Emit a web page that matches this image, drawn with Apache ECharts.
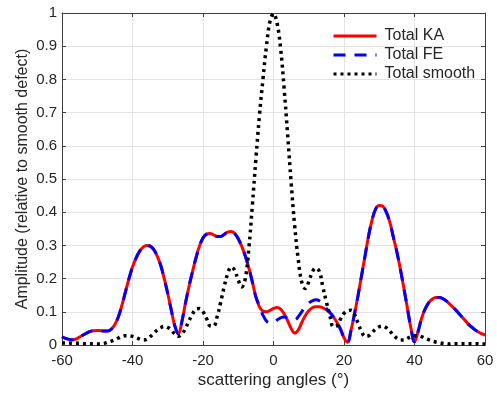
<!DOCTYPE html>
<html>
<head>
<meta charset="utf-8">
<script src="https://cdn.jsdelivr.net/npm/echarts@6/dist/echarts.min.js"></script>
<style>
  html, body { margin: 0; padding: 0; background: #fff; }
  #chart { width: 497px; height: 394px; }
</style>
</head>
<body>
<div id="chart"></div>
<script>
// scattering angle, one sample per degree from -60 to 60
const angles = [
  -60, -59, -58, -57, -56, -55, -54, -53, -52, -51, -50, -49, -48, -47, -46, -45, -44, -43, -42, -41,
  -40, -39, -38, -37, -36, -35, -34, -33, -32, -31, -30, -29, -28, -27, -26, -25, -24, -23, -22, -21,
  -20, -19, -18, -17, -16, -15, -14, -13, -12, -11, -10, -9, -8, -7, -6, -5, -4, -3, -2, -1,
  0, 1, 2, 3, 4, 5, 6, 7, 8, 9, 10, 11, 12, 13, 14, 15, 16, 17, 18, 19,
  20, 21, 22, 23, 24, 25, 26, 27, 28, 29, 30, 31, 32, 33, 34, 35, 36, 37, 38, 39,
  40, 41, 42, 43, 44, 45, 46, 47, 48, 49, 50, 51, 52, 53, 54, 55, 56, 57, 58, 59, 60
];

// Total KA (red, solid)
const totalKA = [
  0.025, 0.020, 0.017, 0.016, 0.018, 0.024, 0.030, 0.036, 0.041, 0.043, 0.044, 0.043, 0.042, 0.042, 0.048, 0.062, 0.085, 0.120, 0.160, 0.200,
  0.235, 0.262, 0.282, 0.295, 0.300, 0.298, 0.288, 0.268, 0.240, 0.200, 0.155, 0.105, 0.058, 0.033, 0.070, 0.125, 0.175, 0.220, 0.262, 0.298,
  0.322, 0.334, 0.336, 0.332, 0.327, 0.327, 0.333, 0.340, 0.342, 0.336, 0.320, 0.297, 0.268, 0.232, 0.190, 0.145, 0.115, 0.102, 0.100, 0.104,
  0.110, 0.113, 0.108, 0.094, 0.073, 0.050, 0.036, 0.045, 0.067, 0.088, 0.103, 0.112, 0.115, 0.115, 0.112, 0.106, 0.097, 0.085, 0.068, 0.048,
  0.022, 0.008, 0.045, 0.095, 0.150, 0.210, 0.270, 0.330, 0.378, 0.410, 0.420, 0.418, 0.400, 0.370, 0.325, 0.280, 0.228, 0.170, 0.110, 0.050,
  0.010, 0.040, 0.080, 0.108, 0.127, 0.138, 0.143, 0.143, 0.140, 0.133, 0.123, 0.113, 0.102, 0.090, 0.078, 0.066, 0.056, 0.047, 0.040, 0.034, 0.030
];

// Total FE (blue, dashed) - differs from KA only near the centre
const totalFE = [
  0.025, 0.020, 0.017, 0.016, 0.018, 0.024, 0.030, 0.036, 0.041, 0.043, 0.044, 0.043, 0.042, 0.042, 0.048, 0.062, 0.085, 0.120, 0.160, 0.200,
  0.235, 0.262, 0.282, 0.295, 0.300, 0.298, 0.288, 0.268, 0.240, 0.200, 0.155, 0.105, 0.058, 0.033, 0.070, 0.125, 0.175, 0.220, 0.262, 0.298,
  0.322, 0.334, 0.336, 0.332, 0.327, 0.327, 0.333, 0.340, 0.342, 0.336, 0.320, 0.297, 0.268, 0.232, 0.190, 0.145, 0.118, 0.090, 0.072, 0.066,
  0.068, 0.075, 0.082, 0.084, 0.082, 0.078, 0.076, 0.085, 0.100, 0.115, 0.126, 0.133, 0.136, 0.133, 0.123, 0.110, 0.098, 0.085, 0.068, 0.048,
  0.022, 0.008, 0.045, 0.095, 0.150, 0.210, 0.270, 0.330, 0.378, 0.410, 0.420, 0.418, 0.400, 0.370, 0.325, 0.280, 0.228, 0.170, 0.110, 0.050,
  0.010, 0.040, 0.080, 0.108, 0.127, 0.138, 0.143, 0.143, 0.140, 0.133, 0.123, 0.113, 0.102, 0.090, 0.078, 0.066, 0.056, 0.047, 0.040, 0.034, 0.030
];

// Total smooth (black, dotted)
const totalSmooth = [
  0.006, 0.006, 0.006, 0.005, 0.005, 0.005, 0.004, 0.004, 0.004, 0.003, 0.003, 0.003, 0.005, 0.008, 0.012, 0.016, 0.021, 0.026, 0.028, 0.028,
  0.026, 0.023, 0.018, 0.015, 0.017, 0.025, 0.035, 0.045, 0.052, 0.056, 0.053, 0.045, 0.033, 0.026, 0.032, 0.050, 0.072, 0.093, 0.108, 0.110,
  0.100, 0.080, 0.058, 0.057, 0.085, 0.128, 0.175, 0.215, 0.235, 0.225, 0.195, 0.175, 0.200, 0.290, 0.420, 0.560, 0.690, 0.800, 0.900, 0.975,
  0.998, 0.970, 0.895, 0.775, 0.635, 0.490, 0.360, 0.260, 0.190, 0.170, 0.190, 0.220, 0.232, 0.222, 0.175, 0.130, 0.088, 0.055, 0.058, 0.078,
  0.095, 0.103, 0.105, 0.092, 0.065, 0.040, 0.026, 0.028, 0.038, 0.048, 0.055, 0.057, 0.052, 0.042, 0.030, 0.020, 0.015, 0.015, 0.020, 0.025,
  0.028, 0.028, 0.025, 0.020, 0.016, 0.012, 0.009, 0.007, 0.005, 0.004, 0.003, 0.004, 0.004, 0.004, 0.004, 0.004, 0.004, 0.004, 0.004, 0.003, 0.003
];

const seriesNames = ['Total KA', 'Total FE', 'Total smooth'];
const xTicks = { min: -60, max: 60, interval: 20 };
const yTicks = { min: 0, max: 1, interval: 0.1 };

const FONT = 'Liberation Sans, Arial, Helvetica, sans-serif';
const TEXT = '#262626';
const AXIS = '#404040';
const GRID = '#e3e3e3';

const pairs = (ys) => angles.map((a, i) => [a, ys[i]]);

const chart = echarts.init(document.getElementById('chart'));

// inner ticks on all four sides, like a boxed matlab axes
const boxAxis = (extra) => Object.assign({
  type: 'value',
  axisLine: { show: true, onZero: false, lineStyle: { color: AXIS, width: 1 } },
  axisTick: { show: true, inside: true, length: 4, lineStyle: { color: AXIS } },
}, extra);

const option = {
  animation: false,
  textStyle: { fontFamily: FONT },
  grid: { left: 62, right: 12, top: 13, bottom: 49, containLabel: false },
  legend: {
    orient: 'vertical',
    left: 332,
    top: 28,
    padding: 0,
    itemWidth: 43,
    itemHeight: 14,
    itemGap: 3,
    data: seriesNames,
    // hide the round marker echarts puts in the middle of line icons
    itemStyle: { opacity: 0 },
    lineStyle: { width: 3 },
    textStyle: { color: TEXT, fontSize: 16, lineHeight: 14, fontFamily: FONT, padding: [0, 0, 0, 3] },
  },
  xAxis: [
    boxAxis({
      ...xTicks,
      position: 'bottom',
      name: 'scattering angles (°)',
      nameLocation: 'middle',
      nameGap: 27,
      nameMoveOverlap: false,
      nameTextStyle: { color: TEXT, fontSize: 17, fontFamily: FONT },
      axisLabel: { color: TEXT, fontSize: 15, margin: 8, fontFamily: FONT },
      splitLine: { show: true, lineStyle: { color: GRID, width: 1 } },
    }),
    boxAxis({ ...xTicks, position: 'top', axisLabel: { show: false }, splitLine: { show: false } }),
  ],
  yAxis: [
    boxAxis({
      ...yTicks,
      position: 'left',
      name: 'Amplitude (relative to smooth defect)',
      nameLocation: 'middle',
      nameGap: 31,
      nameMoveOverlap: false,
      nameTextStyle: { color: TEXT, fontSize: 16, fontFamily: FONT },
      axisLabel: {
        color: TEXT, fontSize: 15, margin: 5, fontFamily: FONT,
        formatter: (v) => (Math.round(v * 10) / 10).toString(),
      },
      splitLine: { show: true, lineStyle: { color: GRID, width: 1 } },
    }),
    boxAxis({ ...yTicks, position: 'right', axisLabel: { show: false }, splitLine: { show: false } }),
  ],
  series: [
    {
      name: seriesNames[0],
      type: 'line',
      data: pairs(totalKA),
      smooth: 0.4,
      symbol: 'none',
      lineStyle: { color: '#ff0000', width: 3 },
      itemStyle: { color: '#ff0000', opacity: 0 },
    },
    {
      name: seriesNames[1],
      type: 'line',
      data: pairs(totalFE),
      smooth: 0.4,
      symbol: 'none',
      lineStyle: { color: '#0000ff', width: 3, type: [12, 9], cap: 'butt' },
      itemStyle: { color: '#0000ff', opacity: 0 },
    },
    {
      name: seriesNames[2],
      type: 'line',
      data: pairs(totalSmooth),
      smooth: 0.4,
      symbol: 'none',
      lineStyle: { color: '#000000', width: 3.5, type: [3, 4], cap: 'butt' },
      itemStyle: { color: '#000000', opacity: 0 },
    },
  ],
};

chart.setOption(option);
</script>
</body>
</html>
